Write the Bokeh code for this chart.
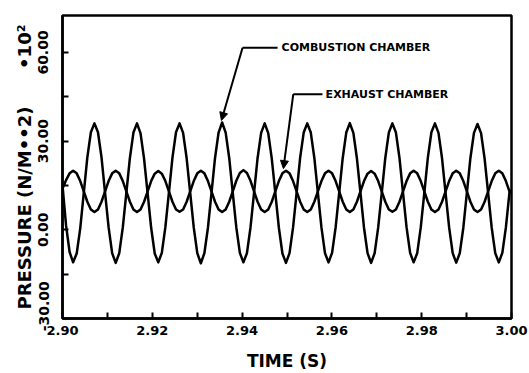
from bokeh.plotting import figure
from bokeh.models import Label, Arrow, NormalHead, FixedTicker, Range1d
from bokeh.embed import file_html
from bokeh.resources import INLINE

# ---------------- data ----------------
time_s = [
    2.90000, 2.90079, 2.90158, 2.90237, 2.90316, 2.90395, 2.90474, 2.90553, 2.90632, 2.90711, 2.90790, 2.90869,
    2.90948, 2.91027, 2.91106, 2.91185, 2.91264, 2.91343, 2.91422, 2.91501, 2.91580, 2.91659, 2.91738, 2.91817,
    2.91896, 2.91975, 2.92054, 2.92133, 2.92212, 2.92291, 2.92370, 2.92449, 2.92528, 2.92607, 2.92686, 2.92765,
    2.92844, 2.92923, 2.93002, 2.93081, 2.93160, 2.93239, 2.93318, 2.93397, 2.93476, 2.93555, 2.93634, 2.93713,
    2.93792, 2.93871, 2.93950, 2.94029, 2.94108, 2.94187, 2.94266, 2.94345, 2.94424, 2.94503, 2.94582, 2.94661,
    2.94740, 2.94819, 2.94898, 2.94977, 2.95056, 2.95135, 2.95214, 2.95293, 2.95372, 2.95451, 2.95530, 2.95609,
    2.95688, 2.95767, 2.95846, 2.95925, 2.96004, 2.96083, 2.96162, 2.96241, 2.96320, 2.96399, 2.96478, 2.96557,
    2.96636, 2.96715, 2.96794, 2.96873, 2.96952, 2.97031, 2.97110, 2.97189, 2.97268, 2.97347, 2.97426, 2.97505,
    2.97584, 2.97663, 2.97742, 2.97821, 2.97900, 2.97979, 2.98058, 2.98137, 2.98216, 2.98295, 2.98374, 2.98453,
    2.98532, 2.98611, 2.98690, 2.98769, 2.98848, 2.98927, 2.99006, 2.99085, 2.99164, 2.99243, 2.99322, 2.99401,
    2.99480, 2.99559, 2.99638, 2.99717, 2.99796, 2.99875, 2.99954, 3.00000,
]

combustion = [
    15.0, 1.5, -7.5, -11.0, -8.0, 0.5, 12.5, 24.5, 33.0, 36.0, 33.0, 24.5,
    12.5, 0.8, -7.9, -11.2, -7.9, 0.8, 12.5, 24.3, 32.9, 36.0, 32.6, 24.0,
    12.3, 0.6, -8.0, -11.0, -7.8, 0.9, 12.6, 24.4, 33.0, 36.0, 32.8, 24.2,
    12.5, 0.8, -7.9, -11.3, -7.9, 0.7, 12.4, 24.3, 32.9, 36.3, 32.9, 24.3,
    12.5, 0.8, -7.8, -11.0, -7.9, 0.8, 12.5, 24.3, 32.8, 36.0, 32.7, 24.1,
    12.4, 0.7, -8.0, -11.2, -7.9, 0.8, 12.5, 24.4, 32.9, 36.0, 32.9, 24.3,
    12.5, 0.8, -7.9, -11.0, -7.8, 0.8, 12.5, 24.3, 32.9, 36.1, 32.8, 24.2,
    12.5, 0.7, -7.9, -11.2, -7.9, 0.8, 12.4, 24.3, 32.9, 36.0, 32.9, 24.3,
    12.5, 0.8, -7.8, -11.0, -7.9, 0.8, 12.5, 24.4, 33.0, 36.0, 32.8, 24.2,
    12.4, 0.8, -7.9, -11.1, -7.9, 0.7, 12.5, 24.3, 32.8, 35.8, 32.7, 24.1,
    12.4, 0.7, -7.9, -11.0, -7.8, 0.8, 12.5, 13.4,
]

exhaust = [
    14.0, 16.8, 19.1, 20.0, 19.1, 16.5, 13.0, 9.5, 6.9, 6.0, 6.9, 9.5,
    13.0, 16.5, 19.1, 20.0, 19.1, 16.5, 13.0, 9.5, 6.9, 6.0, 6.9, 9.5,
    13.0, 16.5, 19.0, 19.9, 19.0, 16.5, 13.0, 9.5, 6.9, 6.1, 6.9, 9.5,
    13.0, 16.5, 19.1, 20.0, 19.1, 16.5, 13.0, 9.5, 6.9, 6.0, 6.9, 9.5,
    13.0, 16.6, 19.2, 20.2, 19.2, 16.6, 13.0, 9.5, 6.9, 6.0, 6.9, 9.5,
    13.0, 16.5, 19.1, 20.0, 19.1, 16.5, 13.0, 9.5, 6.9, 6.0, 6.9, 9.5,
    13.0, 16.5, 19.1, 20.0, 19.1, 16.5, 13.0, 9.5, 6.9, 6.0, 6.9, 9.5,
    13.0, 16.5, 19.0, 19.9, 19.0, 16.5, 13.0, 9.5, 6.9, 6.1, 6.9, 9.5,
    13.0, 16.5, 19.1, 20.0, 19.1, 16.5, 13.0, 9.5, 6.9, 6.0, 6.9, 9.5,
    13.0, 16.5, 19.1, 20.0, 19.1, 16.5, 13.0, 9.5, 6.9, 6.0, 6.9, 9.5,
    13.0, 16.5, 19.1, 20.0, 19.1, 16.5, 13.0, 12.7,
]

x_ticks = [2.90, 2.92, 2.94, 2.96, 2.98, 3.00]
x_tick_labels = ["2.90", "2.92", "2.94", "2.96", "2.98", "3.00"]
x_minor = [2.91, 2.93, 2.95, 2.97, 2.99]
y_ticks = [-30, 0, 30, 60]
y_tick_labels = ["\u00a0" * 5 + "-30.00", "0.00", "30.00", "60.00"]
y_minor = [-15, 15, 45]

series_names = ["COMBUSTION CHAMBER", "EXHAUST CHAMBER"]
x_title = "TIME (S)"
y_title = "PRESSURE (N/M\u2022\u20222)"
y_scale = "\u202210\u00b2"

# ---------------- figure ----------------
FONT = "DejaVu Sans"
INK = "black"
W, H = 529, 373
p = figure(width=W, height=H, output_backend="svg", toolbar_location=None,
           x_range=Range1d(2.90, 3.00), y_range=Range1d(-30, 72.5),
           min_border_left=62, min_border_right=18, min_border_top=15,
           min_border_bottom=50)
p.grid.visible = False
p.background_fill_color = "white"
p.border_fill_color = "white"
p.outline_line_color = INK
p.outline_line_width = 2.5

p.line(time_s, combustion, line_color=INK, line_width=2.5, line_join="round")
p.line(time_s, exhaust, line_color=INK, line_width=2.5, line_join="round")

xa = p.xaxis[0]
xa.ticker = FixedTicker(ticks=x_ticks, minor_ticks=x_minor)
xa.major_label_overrides = {t: l for t, l in zip(x_ticks, x_tick_labels)}
xa.axis_line_width = 2.5
xa.axis_line_color = INK
xa.major_tick_in = 6
xa.major_tick_out = 0
xa.minor_tick_in = 6
xa.minor_tick_out = 0
xa.major_tick_line_width = 2
xa.minor_tick_line_width = 2
xa.major_tick_line_color = INK
xa.minor_tick_line_color = INK
xa.major_label_text_font = FONT
xa.major_label_text_font_style = "bold"
xa.major_label_text_font_size = "13px"
xa.major_label_text_color = INK
xa.major_label_standoff = 7
xa.axis_label = x_title
xa.axis_label_text_font = FONT
xa.axis_label_text_font_style = "bold"
xa.axis_label_text_font_size = "17px"
xa.axis_label_text_color = INK
xa.axis_label_standoff = 13

ya = p.yaxis[0]
ya.ticker = FixedTicker(ticks=y_ticks, minor_ticks=y_minor)
ya.major_label_overrides = {t: l for t, l in zip(y_ticks, y_tick_labels)}
ya.major_label_orientation = "vertical"
ya.axis_line_width = 2.5
ya.axis_line_color = INK
ya.major_tick_in = 6
ya.major_tick_out = 0
ya.minor_tick_in = 6
ya.minor_tick_out = 0
ya.major_tick_line_width = 2
ya.minor_tick_line_width = 2
ya.major_tick_line_color = INK
ya.minor_tick_line_color = INK
ya.major_label_text_font = FONT
ya.major_label_text_font_style = "bold"
ya.major_label_text_font_size = "14px"
ya.major_label_text_color = INK
ya.major_label_standoff = 11
# title (bottom) and the x10^2 scale factor (top) share the axis-label line
ya.axis_label = y_title + "\u00a0" * 6 + y_scale
ya.axis_label_text_font = FONT
ya.axis_label_text_font_style = "bold"
ya.axis_label_text_font_size = "18px"
ya.axis_label_text_color = INK
ya.axis_label_standoff = -2

# annotations with leader arrows
p.add_layout(Label(x=2.9488, y=61.6, text=series_names[0],
                   text_align="left", text_baseline="middle",
                   text_font=FONT, text_font_style="bold",
                   text_font_size="11px", text_color=INK))
p.add_layout(Arrow(end=None, x_start=2.9401, y_start=61.6, x_end=2.9479, y_end=61.6,
                   line_color=INK, line_width=2))
p.add_layout(Arrow(end=NormalHead(size=8, fill_color=INK, line_color=INK),
                   x_start=2.9401, y_start=61.6, x_end=2.9354, y_end=37.0,
                   line_color=INK, line_width=2))

p.add_layout(Label(x=2.9586, y=45.9, text=series_names[1],
                   text_align="left", text_baseline="middle",
                   text_font=FONT, text_font_style="bold",
                   text_font_size="11px", text_color=INK))
p.add_layout(Arrow(end=None, x_start=2.9514, y_start=45.9, x_end=2.9579, y_end=45.9,
                   line_color=INK, line_width=2))
p.add_layout(Arrow(end=NormalHead(size=8, fill_color=INK, line_color=INK),
                   x_start=2.9514, y_start=45.9, x_end=2.9492, y_end=20.7,
                   line_color=INK, line_width=2))

open("out.html", "w").write(file_html(p, INLINE))
